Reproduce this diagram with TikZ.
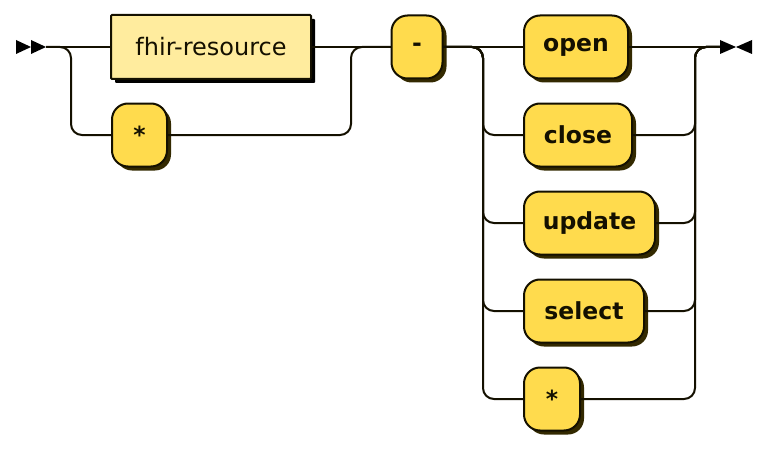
\documentclass[tikz,border=0pt]{standalone}
\usepackage{fontspec}
\setmainfont{DejaVu Sans}
\usepackage{xcolor}
\definecolor{cTerm}{HTML}{FFDB4D}
\definecolor{cNonTerm}{HTML}{FFEC9E}
\definecolor{cShadow}{HTML}{332900}
\definecolor{cLine}{HTML}{141000}
\usepackage{tikz}
\usetikzlibrary{positioning,shadows}
\tikzset{
  node-term/.style={draw=cLine,line width=2pt,fill=cTerm,rounded corners=16pt,
    minimum height=63pt,inner sep=0pt,text=cLine,
    font=\fontsize{23.5pt}{28pt}\selectfont\bfseries,
    drop shadow={shadow xshift=4pt,shadow yshift=-4pt,fill=cShadow,opacity=1}},
  node-nonterm/.style={draw=cLine,line width=2pt,fill=cNonTerm,rounded corners=1pt,
    minimum height=64pt,inner sep=0pt,text=cLine,
    font=\fontsize{24pt}{28pt}\selectfont,
    drop shadow={shadow xshift=4pt,shadow yshift=-4pt,fill=black,opacity=1}},
  rr-line/.style={line width=2pt,draw=cLine,rounded corners=11pt},
  rr-tip/.style={fill=black},
}

\begin{document}
\begin{tikzpicture}[x=1pt,y=-1pt]
  \useasboundingbox (0,0) rectangle (782,452);
  % ends of the track and the columns where it bends
  \coordinate (start) at (46,47);
  \coordinate (end)   at (720,47);
  \coordinate (colA)  at (71,47);
  \coordinate (colB)  at (351,47);
  \coordinate (colC)  at (483,47);
  \coordinate (colD)  at (695,47);

  \node[node-nonterm,minimum width=200pt] (res)    at (211,47)  {fhir-resource};
  \node[node-term,minimum width=55pt]     (anyres) at (139.5,135) {*};
  \node[node-term,minimum width=51pt]     (dash)   at (417,47)  {-};
  \node[node-term,anchor=west,minimum width=104pt] (open)   at (523,47)  {open};
  \node[node-term,anchor=west,minimum width=108pt] (close)  at (523,135) {close};
  \node[node-term,anchor=west,minimum width=131pt] (update) at (523,223) {update};
  \node[node-term,anchor=west,minimum width=120pt] (select) at (523,311) {select};
  \node[node-term,anchor=west,minimum width=56pt]  (anyop)  at (523,399) {*};

  % resource part
  \draw[rr-line] (start) -- (res.west);
  \draw[rr-line] (start) -| (colA |- anyres.west) -- (anyres.west);
  \draw[rr-line] (res.east) -- (dash.west);
  \draw[rr-line] (anyres.east) -| (colB) -- (dash.west);

  % operation part
  \draw[rr-line] (dash.east) -- (open.west);
  \draw[rr-line] (open.east) -- (end);
  \foreach \op in {close,update,select,anyop} {
    \draw[rr-line] (dash.east) -| (colC |- \op.west) -- (\op.west);
    \draw[rr-line] (\op.east) -| (colD) -- (end);
  }

  % start and end marks
  \fill[rr-tip] (start) ++(-30,-7) -- ++(15,7) -- ++(-15,7) -- cycle;
  \fill[rr-tip] (start) ++(-15,-7) -- ++(15,7) -- ++(-15,7) -- cycle;
  \fill[rr-tip] (end) ++(0,-7) -- ++(16,7) -- ++(-16,7) -- cycle;
  \fill[rr-tip] (end) ++(32,-7) -- ++(-16,7) -- ++(16,7) -- cycle;
\end{tikzpicture}
\end{document}
